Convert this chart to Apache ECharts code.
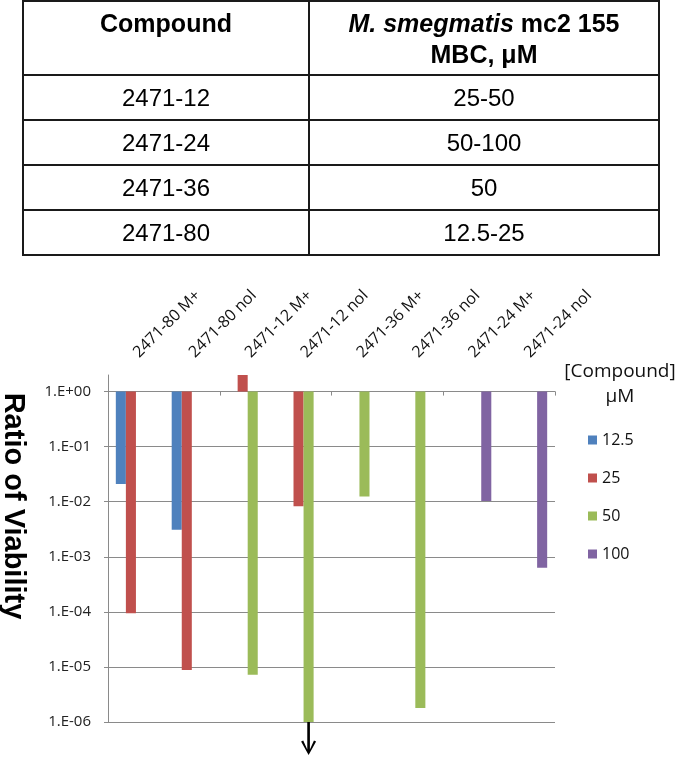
<!DOCTYPE html>
<html>
<head>
<meta charset="utf-8">
<script src="https://cdn.jsdelivr.net/npm/echarts@6/dist/echarts.min.js"></script>
<style>
  html, body { margin: 0; padding: 0; background: #fff; }
  #chart { position: absolute; left: 0; top: 0; width: 680px; height: 758px; }
  #tbl { position: absolute; left: 22px; top: 0px; z-index: 2; border-collapse: collapse; table-layout: fixed; width: 636px;
         font-family: "Liberation Sans", Arial, sans-serif; color: #000; }
  #tbl td, #tbl th { border: 2px solid #1a1a1a; text-align: center; padding: 0; }
  #tbl th { font-weight: bold; font-size: 25px; line-height: 31px; vertical-align: top; padding-top: 6px; height: 66px; }
  #tbl td { font-size: 24px; height: 43px; vertical-align: middle; }
</style>
</head>
<body>
<div id="chart"></div>
<table id="tbl">
  <colgroup><col style="width:286px"><col style="width:350px"></colgroup>
  <tr><th>Compound</th><th><i>M. smegmatis</i> mc2 155<br>MBC, μM</th></tr>
  <tr><td>2471-12</td><td>25-50</td></tr>
  <tr><td>2471-24</td><td>50-100</td></tr>
  <tr><td>2471-36</td><td>50</td></tr>
  <tr><td>2471-80</td><td>12.5-25</td></tr>
</table>
<script>
// ---- data ----
const categories = ['2471-80 M+', '2471-80 nol', '2471-12 M+', '2471-12 nol', '2471-36 M+', '2471-36 nol', '2471-24 M+', '2471-24 nol'];
const seriesNames = ['12.5', '25', '50', '100'];
const conc12_5 = [0.021, 0.0031, null, null, null, null, null, null];
const conc25   = [9.4e-5, 8.8e-6, 2, 0.0083, null, null, null, null];
const conc50   = [null, null, 7.2e-6, 1e-6, 0.0124, 1.8e-6, null, null];
const conc100  = [null, null, null, null, null, null, 0.0103, 6.3e-4];
const yTickLabels = ['1.E+00', '1.E-01', '1.E-02', '1.E-03', '1.E-04', '1.E-05', '1.E-06'];
const yMin = 1e-6, yMax = 2;
const arrowCategory = '2471-12 nol';

const colors = ['#4F81BD', '#C0504D', '#9BBB59', '#8064A2'];
const gridColor = '#8a8a8a';
const labelFont = '"Open Sans", "Liberation Sans", sans-serif';

const chart = echarts.init(document.getElementById('chart'), null, { renderer: 'canvas' });

const gridTop = 375, gridBottom = 36, chartH = 758;
const gridHeight = chartH - gridTop - gridBottom;
const oneOffset = -gridHeight * Math.log10(yMax) / (Math.log10(yMax) - Math.log10(yMin));

const arrowPath = 'path://M6.2,0 L8.8,0 L8.8,27.5 L12.8,18.5 L14.9,19.6 L7.5,33 L0.1,19.6 L2.2,18.5 L6.2,27.5 Z';

function mkSeries(name, data, idx, extra) {
  return Object.assign({
    name: name,
    type: 'bar',
    data: data,
    xAxisIndex: 0,
    barGap: '0%',
    barCategoryGap: '28%',
    clip: false,
    itemStyle: { color: colors[idx] },
    emphasis: { disabled: true },
    animation: false
  }, extra || {});
}

const option = {
  animation: false,
  color: colors,
  grid: { left: 108, right: 125, top: gridTop, bottom: gridBottom, containLabel: false, outerBoundsMode: 'none' },
  legend: {
    data: seriesNames,
    orient: 'vertical',
    left: 583,
    top: 427,
    itemWidth: 9,
    itemHeight: 9,
    itemGap: 22,
    icon: 'rect',
    selectedMode: false,
    textStyle: { fontFamily: labelFont, fontSize: 16, color: '#111' }
  },
  xAxis: [
    {
      type: 'category',
      data: categories,
      position: 'top',
      axisLine: { show: false },
      axisTick: { show: false },
      splitLine: { show: false },
      axisLabel: { interval: 0, rotate: -45, margin: 20, fontFamily: labelFont, fontSize: 16, color: '#111' }
    },
    {
      type: 'category',
      data: categories,
      position: 'top',
      offset: oneOffset,
      axisLine: { show: true, lineStyle: { color: gridColor, width: 1 } },
      axisTick: { show: true, inside: true, length: 4, lineStyle: { color: gridColor } },
      axisLabel: { show: false },
      splitLine: { show: false }
    }
  ],
  yAxis: {
    type: 'log',
    logBase: 10,
    min: yMin,
    max: yMax,
    axisLine: { show: true, lineStyle: { color: gridColor, width: 1 } },
    axisTick: { show: true, length: 4, lineStyle: { color: gridColor } },
    splitLine: { show: true, showMaxLine: false, lineStyle: { color: gridColor, width: 1 } },
    axisLabel: {
      showMaxLabel: false,
      margin: 17,
      fontFamily: labelFont,
      fontSize: 15,
      color: '#222',
      formatter: function (v) {
        const e = Math.round(-Math.log10(v));
        if (Math.abs(Math.log10(v) + e) > 1e-6) return '';
        return yTickLabels[e] !== undefined ? yTickLabels[e] : '';
      }
    }
  },
  graphic: [
    {
      type: 'text',
      x: 13, y: 506,
      rotation: -Math.PI / 2,
      style: { text: 'Ratio of Viability', font: 'bold 29px "Liberation Sans", Arial, sans-serif', fill: '#000', textAlign: 'center', textVerticalAlign: 'middle' }
    },
    {
      type: 'text',
      x: 620, y: 359,
      style: { text: '[Compound]\nμM', font: '19px ' + labelFont, lineHeight: 25, fill: '#111', textAlign: 'center', textVerticalAlign: 'top' }
    }
  ],
  series: [
    mkSeries(seriesNames[0], conc12_5, 0),
    mkSeries(seriesNames[1], conc25, 1),
    mkSeries(seriesNames[2], conc50, 2, {
      markPoint: {
        silent: true,
        symbol: arrowPath,
        symbolSize: [15, 33],
        symbolOffset: [0, '50%'],
        symbolKeepAspect: false,
        itemStyle: { color: '#000' },
        label: { show: false },
        data: [{ coord: [arrowCategory, yMin] }]
      }
    }),
    mkSeries(seriesNames[3], conc100, 3)
  ]
};
chart.setOption(option);
</script>
</body>
</html>
